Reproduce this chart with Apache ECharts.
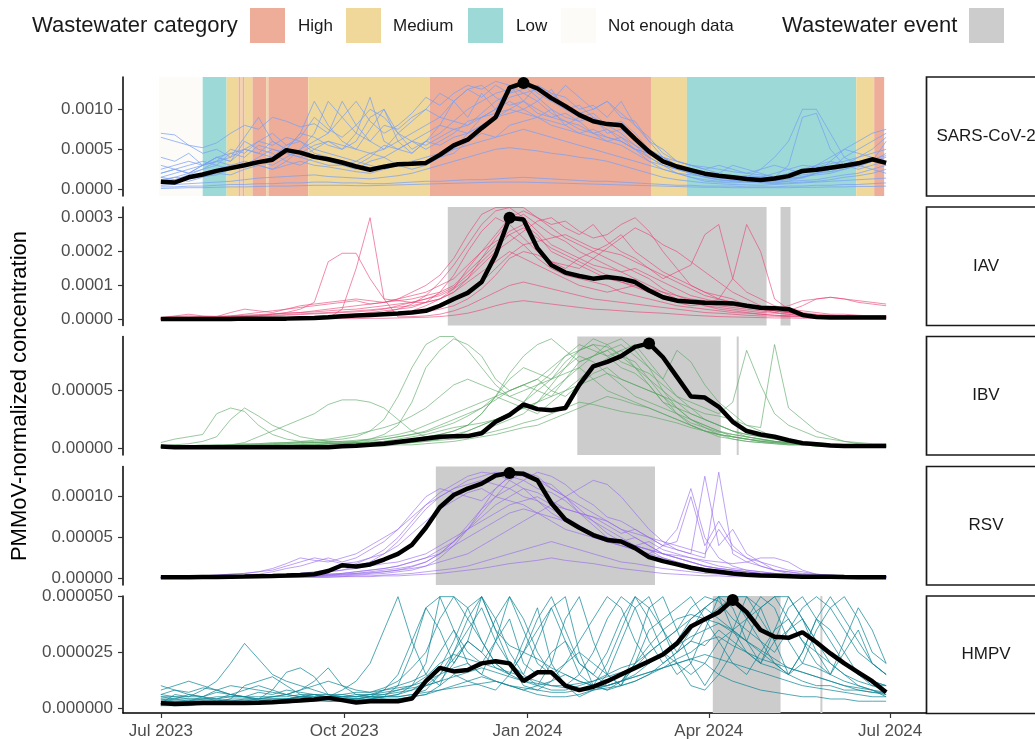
<!DOCTYPE html>
<html><head><meta charset="utf-8">
<script src="https://cdn.jsdelivr.net/npm/echarts@6/dist/echarts.min.js"></script>
<style>html,body{margin:0;padding:0;background:#fff}#c{width:1035px;height:740px}</style>
</head><body><div id="c"></div>
<script>
// ---------------- DATA ----------------
const UNIT = 1e-6; // all concentration values below are in units of 1e-6
const weeks = ['2023-07-01','2023-07-08','2023-07-15','2023-07-22','2023-07-29','2023-08-05','2023-08-12','2023-08-19','2023-08-26','2023-09-02','2023-09-09','2023-09-16','2023-09-23','2023-09-30','2023-10-07','2023-10-14','2023-10-21','2023-10-28','2023-11-04','2023-11-11','2023-11-18','2023-11-25','2023-12-02','2023-12-09','2023-12-16','2023-12-23','2023-12-30','2024-01-06','2024-01-13','2024-01-20','2024-01-27','2024-02-03','2024-02-10','2024-02-17','2024-02-24','2024-03-02','2024-03-09','2024-03-16','2024-03-23','2024-03-30','2024-04-06','2024-04-13','2024-04-20','2024-04-27','2024-05-04','2024-05-11','2024-05-18','2024-05-25','2024-06-01','2024-06-08','2024-06-15','2024-06-22','2024-06-29'];
const panelNames = ['SARS-CoV-2','IAV','IBV','RSV','HMPV'];
const xTickDates = ['2023-07-01','2023-10-01','2024-01-01','2024-04-01','2024-07-01'];
const xTickLabels = ['Jul 2023','Oct 2023','Jan 2024','Apr 2024','Jul 2024'];
const yTicks = [[0,0.0005,0.0010],[0,0.0001,0.0002,0.0003],[0,0.00005],[0,0.00005,0.00010],[0,0.000025,0.000050]];

const sarsMean = [95,85,150,185,230,265,300,340,370,490,458,405,375,335,285,245,283,312,320,330,430,550,620,765,900,1270,1330,1260,1140,1040,930,850,815,800,630,470,350,285,240,195,170,150,128,116,135,165,230,245,270,295,325,375,330];
const iavMean = [1,1,1,1,1,1,2,2,2,2,3,4,6,9,11,13,15,17,20,25,40,60,78,110,190,300,295,210,160,138,128,120,125,120,110,85,65,55,52,49,48,47,40,34,33,30,13,7,5,5,5,5,5];
const ibvMean = [1.5,1,1,1,1,1,1,1,1,1,1,1,1,1.8,2.3,3,4,5.5,7,8.5,10,10.5,10.6,13,23,29,38,34,33,35,55,71,75,80,88,91,79,62,45,44,36,23,15,12,10,7,4.5,3.5,2.5,2,2,2,2];
const rsvMean = [1.2,1.2,1.3,1.5,1.7,2,2.2,2.5,2.8,3.3,4,5,9,16,14.5,17,23,30,41,62,87,102,110,116,126,129,128,120,92,72,62,53,47,45,37,26,21,17,13,10,8,6,4.5,3.5,3,2.5,2,2,1.8,1.5,1.3,1.2,1.2];
const hmpvMean = [2.2,1.7,2,2.2,2.2,2.2,2.2,2.3,2.5,3,3.3,3.8,4.5,3.5,2.4,3,3,3,4.2,12,18,16.4,17,20,21,20,12,16,16,10,8,9.5,12,15,18,21,24,29,36.6,39.8,43,48.5,43,35,32,31.5,34,29.5,24.5,20,16,12,7];

const sarsSites = [
[650,600,550,520,580,700,800,750,900,850,780,820,700, 900,1100,850,700,800,950,1150,1050,1200,1300,1250,1350,1300, 1200,1100,1250,1000,900,950,800,700,550,400,300,250,220, 200,180,170,160,150,200,250,300,280,320,350,400,450,500],
[150,200,250,300,350,400,500,600,550,650,600,500,450, 400,350,450,500,600,700,800,900,850,1000,1100,1200,1250, 1300,1150,1000,900,850,700,750,600,500,350,250,200,150, 120,100,110,90,100,130,160,200,250,220,300,320,380,420],
[50,60,70,80,90,100,120,140,150,160,170,180,160, 150,140,130,150,170,200,250,300,350,400,450,500,520, 500,480,450,430,400,380,350,300,250,200,150,120,100, 80,70,60,55,50,60,70,80,90,100,110,120,130,140],
[700,680,550,450,500,400,650,900,600,500,700,1100,800, 600,500,750,1000,600,450,600,800,1100,900,1200,1000,1300, 1100,1300,1200,1150,1000,1050,900,1100,800,600,500,350,300, 250,200,300,250,200,150,300,900,950,500,300,250,300,350],
[100,150,200,250,300,450,500,450,400,550,600,450,400, 350,300,400,550,500,450,600,700,850,800,950,1100,1200, 1250,1300,1200,1050,950,1000,1100,900,850,600,400,300,250, 200,180,150,170,160,140,150,180,200,250,300,280,350,600],
[80,100,150,200,250,300,350,300,250,300,350,300,280, 250,220,200,250,300,350,400,450,500,550,600,650,700, 750,700,650,600,550,500,450,400,350,300,250,200,180, 160,140,120,110,100,90,100,110,120,150,180,200,250,300],
[30,30,40,40,50,60,60,70,70,80,80,90,90, 80,80,70,70,80,90,100,100,110,120,120,130,140, 150,140,130,120,110,100,100,90,80,70,60,50,50, 40,40,40,30,30,30,40,40,50,50,60,60,70,80],
[300,250,200,300,400,350,600,500,450,350,500,600,700, 1100,800,600,500,700,600,500,600,700,850,900,1000,1100, 1000,900,1000,800,700,750,650,600,500,450,350,300,200, 150,120,100,150,250,400,600,1000,1000,700,400,300,250,200],
[200,250,300,350,300,250,300,400,500,450,400,350,300, 300,250,350,400,300,250,300,400,500,700,900,1000,1150, 1200,1250,1100,1000,1050,900,800,850,700,500,350,250,200, 150,120,100,100,90,80,100,150,200,250,400,500,600,700],
[150,120,180,250,350,300,280,350,400,500,450,550,600, 500,600,900,1000,700,500,600,550,650,700,800,900,950, 1000,1100,950,850,800,700,600,650,550,450,400,300,250, 200,180,160,140,120,100,120,150,200,220,250,300,350,400],
[400,350,450,300,350,500,450,600,700,550,650,900,750, 650,800,1000,900,700,850,1000,900,1100,1250,1150,1300,1200, 1350,1200,1100,1300,1150,1000,1100,950,800,650,450,350,300, 250,300,250,200,250,300,250,200,300,350,300,400,500,650],
[100,120,100,150,200,180,250,300,250,350,300,400,350, 300,350,300,250,300,350,300,400,450,600,700,650,800, 850,900,800,750,700,650,600,550,450,350,300,200,150, 100,90,80,90,80,70,80,90,100,120,150,170,200,250],
[200,250,200,300,400,350,500,450,600,500,700,650,550, 500,700,600,800,750,900,1000,1200,1100,1250,1300,1150,1050, 1100,1000,900,950,850,900,700,750,600,500,400,300,250, 200,150,150,130,120,110,130,160,180,200,250,300,350,450],
[10,15,20,20,25,30,30,35,40,40,45,50,50, 50,45,45,50,55,60,65,70,75,80,85,90,90, 90,85,80,75,70,65,60,55,50,45,40,35,30, 25,25,20,20,20,20,20,25,25,30,30,35,35,40],
[250,300,350,300,400,450,400,550,500,450,400,500,600, 550,500,450,400,500,600,550,650,750,800,900,950,1000, 950,900,850,800,900,850,750,650,500,400,300,250,200, 180,150,140,130,120,150,200,250,300,400,500,600,700,750],
[120,150,130,160,180,250,300,350,300,400,500,700,1100, 900,700,1150,600,500,600,700,800,750,700,800,900,1000, 1100,950,900,850,750,700,650,600,500,450,400,350,300, 280,250,220,200,180,160,150,140,200,350,500,450,400,300]
];
const iavSites = [
[5,10,15,10,8,20,30,25,20,30,40,45,50, 55,60,55,50,60,80,100,130,180,250,310,330,330, 300,260,220,200,180,160,150,140,120,100,80,60,50, 40,35,30,25,20,18,15,12,10,8,8,7,7,7],
[0,0,1,2,2,3,3,4,5,5,6,8,10, 12,15,20,25,30,35,50,80,130,200,260,300,280, 240,200,170,150,180,200,220,250,200,170,140,120,100, 80,70,60,40,30,20,15,10,8,6,5,5,4,4],
[2,3,4,5,5,6,8,10,15,20,30,50,170, 195,195,120,60,55,50,50,60,80,120,180,240,290, 310,280,250,230,200,180,160,140,150,130,110,90,70, 60,50,40,35,30,25,20,15,12,10,10,8,8,8],
[0,1,1,1,2,2,3,3,4,5,5,6,7, 8,10,12,15,20,25,40,60,90,150,200,230,250, 220,180,150,130,120,110,100,80,70,60,50,40,35, 30,25,20,18,15,12,10,10,8,8,7,6,6,5],
[3,3,4,5,6,7,8,9,10,12,14,16,18, 20,22,25,30,40,50,60,70,90,120,160,200,230, 260,290,300,270,250,280,230,200,180,150,120,140,160, 250,280,120,80,60,40,30,25,20,15,15,12,10,10],
[1,2,3,4,5,8,10,12,15,18,20,25,30, 35,40,45,50,55,60,70,80,100,140,180,220,260, 280,250,200,180,160,140,120,110,100,90,80,70,60, 55,50,45,40,35,30,40,55,60,65,60,50,45,40],
[1,1,1,1,1,2,2,2,2,3,3,3,4, 30,150,300,60,7,8,10,15,25,40,60,80,100, 110,100,90,80,70,60,55,50,45,40,35,30,25, 20,18,15,12,10,9,8,7,6,5,5,4,4,4],
[5,8,10,8,6,10,15,20,25,30,35,40,45, 50,55,45,50,60,70,80,100,120,160,200,250,300, 320,300,280,290,260,240,250,280,300,260,200,150,100, 80,60,50,40,30,25,20,15,12,12,10,10,10,10],
[0,1,1,2,2,3,3,4,4,5,5,6,8, 10,12,15,20,30,45,70,110,160,220,280,320,330, 330,300,270,240,220,200,180,160,140,120,90,70,55, 40,30,25,20,15,12,10,8,7,6,5,5,4,4],
[2,2,3,3,4,4,5,5,6,6,7,8,9, 10,12,14,16,18,22,28,40,55,80,110,150,190, 220,230,240,250,230,210,200,190,170,150,130,110,90, 70,60,50,40,30,25,20,15,12,10,10,10,10,10],
[1,1,2,2,3,3,4,4,5,5,6,6,7, 8,9,10,12,15,18,22,30,40,60,90,130,180, 200,190,170,160,150,180,210,240,270,250,220,200,170, 140,110,80,60,40,30,20,15,12,10,8,8,7,6],
[3,4,5,6,7,8,9,10,12,14,16,18,20, 22,25,28,32,36,40,50,60,80,110,140,170,200, 180,160,140,120,100,90,80,90,100,80,60,50,40, 45,60,120,280,200,60,30,20,15,12,10,8,8,8],
[0,0,0,0,0,0,0,1,1,1,1,1,2, 2,2,3,3,4,5,6,8,12,18,28,40,50, 55,50,45,40,35,30,28,25,22,20,18,15,12, 10,8,7,6,5,4,4,3,3,3,3,3,3,3],
[5,6,7,8,9,10,12,14,16,18,20,22,25, 28,30,35,40,45,50,60,75,95,130,170,210,250, 270,240,210,190,170,150,130,110,95,80,70,60,50, 45,40,35,30,25,20,25,40,60,65,60,55,50,45]
];
const ibvSites = [
[2,3,4,6,10,25,35,28,20,15,10,8,6, 5,5,6,8,10,12,15,20,25,30,35,45,50, 55,60,70,80,85,90,88,80,75,60,45,30,20, 15,10,8,6,5,4,3,3,2,2,2,2,2,2],
[1,1,1,2,2,3,5,10,15,20,25,30,38, 42,42,40,35,25,15,10,12,15,20,30,45,60, 70,65,60,75,85,95,90,80,70,60,50,40,30, 25,20,15,10,8,6,5,4,3,3,2,2,2,2],
[1,1,1,1,1,1,1,2,2,2,3,3,4, 5,6,8,12,20,40,70,85,95,90,80,60,50, 55,60,50,45,55,65,70,60,55,50,45,35,25, 20,15,10,8,6,5,4,3,3,2,2,2,2,2],
[3,2,2,2,1,1,1,1,1,1,1,2,2, 2,2,3,3,4,5,6,8,10,15,20,25,30, 35,40,50,60,70,80,85,90,80,70,60,85,75, 55,40,30,20,15,10,8,6,5,4,3,3,3,3],
[1,1,1,1,1,1,1,1,1,1,1,1,1, 1,2,2,2,3,3,4,5,6,8,10,12,15, 18,20,25,30,35,40,45,42,38,35,30,25,20, 15,12,10,8,6,5,4,3,2,2,2,1,1,1],
[2,3,2,2,2,2,3,3,3,4,4,5,5, 6,6,7,8,10,12,14,18,22,28,35,42,50, 55,50,45,60,75,80,85,75,70,65,55,45,40, 35,30,40,85,55,30,20,15,10,8,6,5,4,4],
[1,2,2,2,2,3,3,3,4,4,5,5,6, 6,7,8,10,12,15,20,25,30,35,40,45,40, 35,30,40,50,60,70,78,85,70,55,40,30,22, 18,14,12,10,8,6,5,4,3,3,3,2,2,2],
[5,8,10,12,30,35,32,20,12,8,6,5,5, 4,4,5,6,8,10,12,15,18,20,22,25,30, 40,55,65,80,90,85,80,70,65,55,40,35,30, 25,20,15,12,10,8,6,5,4,3,3,3,3,3],
[1,1,1,1,2,2,2,2,3,3,3,3,4, 4,5,5,6,7,8,10,12,15,20,30,45,65, 80,90,95,85,75,80,90,95,85,70,50,35,25, 18,12,8,6,5,4,3,3,2,2,2,2,2,2],
[2,2,2,2,3,3,3,4,4,5,5,6,7, 8,10,15,25,45,70,90,97,97,85,70,55,45, 40,50,60,70,80,75,65,55,45,40,35,30,25, 20,15,12,10,8,6,5,4,3,3,2,2,2,2],
[1,1,1,1,1,1,1,1,2,2,2,2,2, 3,3,3,4,4,5,6,7,8,10,12,15,18, 22,25,30,35,40,38,35,32,30,28,25,22,18, 15,12,10,8,6,5,4,3,3,2,2,2,1,1],
[1,1,2,2,2,2,2,3,3,3,3,4,4, 4,5,5,6,6,7,8,10,12,15,20,25,30, 35,40,45,50,55,60,65,60,55,50,45,40,35, 30,28,25,20,18,90,35,25,15,10,6,4,3,3],
[1,1,1,1,1,2,2,2,2,2,3,3,3, 3,4,4,5,5,6,7,8,10,12,15,20,25, 30,40,55,70,85,90,80,85,90,75,60,45,35, 25,20,15,12,10,8,6,5,4,3,3,2,2,2],
[2,2,2,3,3,3,4,4,5,5,6,7,8, 10,12,15,18,22,28,35,45,55,60,55,50,45, 50,55,60,65,70,60,50,45,40,35,30,25,20, 15,12,10,8,7,6,5,4,4,3,3,3,3,3]
];
const rsvSites = [
[1,1,1,2,2,2,3,3,4,5,6,8,10, 14,18,25,35,50,70,90,105,115,125,130,128,120, 110,95,80,70,60,50,45,40,35,30,25,20,15, 12,10,8,6,5,4,3,3,2,2,2,2,2,2],
[0,0,1,1,1,1,2,2,2,3,3,4,5, 6,8,10,12,15,20,25,35,45,60,80,100,120, 130,125,110,100,85,70,60,50,40,45,35,30,25, 20,15,12,10,8,6,5,4,3,2,2,2,1,1],
[2,2,3,3,4,5,6,8,10,15,20,25,22, 18,20,25,30,40,55,70,85,95,105,110,100,95, 90,80,70,60,55,50,45,40,35,30,40,60,110, 50,25,15,10,8,6,5,4,3,3,2,2,2,2],
[1,1,1,1,1,1,1,1,1,2,2,2,3, 3,4,5,6,8,10,15,25,40,60,85,110,125, 130,120,115,100,80,65,50,45,50,40,30,25,20, 15,12,10,8,6,5,4,3,3,2,2,2,2,2],
[1,2,2,2,3,3,3,4,4,5,6,7,8, 10,12,15,18,20,25,30,40,50,60,70,80,90, 95,100,90,85,80,75,70,60,55,50,40,35,30, 125,40,60,30,20,10,8,5,4,3,3,2,2,2],
[0,0,0,0,0,0,1,1,1,1,1,1,1, 2,2,2,3,3,4,5,6,8,10,12,15,18, 20,22,25,22,20,18,15,12,10,8,6,5,4, 3,3,2,2,2,2,1,1,1,1,1,1,1,1],
[1,1,2,2,3,3,4,5,8,12,15,20,25, 20,25,35,45,60,80,100,110,105,100,95,110,125, 120,110,105,95,80,70,55,45,40,35,25,20,15, 10,8,6,5,4,3,3,2,2,2,2,2,2,2],
[1,1,1,1,1,2,2,2,2,3,3,3,4, 5,6,8,10,12,15,20,30,45,65,85,100,110, 120,130,125,115,100,90,75,70,60,50,45,40,35, 30,60,35,25,20,15,10,8,5,4,3,3,2,2],
[1,1,1,1,2,2,2,3,3,4,5,6,8, 10,15,20,30,45,65,85,100,110,120,125,130,128, 125,120,110,100,90,80,70,60,50,40,30,25,20, 15,12,10,8,6,5,4,3,3,2,2,2,2,2],
[1,1,1,1,1,2,2,2,2,3,3,3,4, 5,6,7,8,10,12,15,20,25,30,40,50,60, 70,80,90,100,110,120,115,100,80,60,45,35,30, 25,130,30,20,15,10,8,6,5,4,3,3,2,2],
[0,0,0,0,0,1,1,1,1,1,1,2,2, 2,3,3,4,5,6,8,10,12,15,20,25,30, 35,40,45,40,35,30,25,20,18,15,12,10,8, 6,5,4,3,3,2,2,2,1,1,1,1,1,1],
[2,2,3,3,4,5,6,8,12,18,25,22,20, 25,30,40,50,60,75,90,100,110,115,120,115,110, 100,95,85,75,65,55,50,45,40,35,30,25,20, 15,12,10,8,6,5,4,3,3,2,2,2,2,2],
[1,1,1,1,1,1,2,2,2,2,3,3,3, 4,5,6,8,10,14,20,30,45,60,75,90,100, 110,105,95,85,80,75,65,55,60,50,40,45,100, 40,70,40,25,15,10,6,4,3,2,2,2,2,2],
[1,1,1,2,2,2,2,3,3,3,4,4,5, 6,8,10,12,15,20,25,30,40,50,60,70,80, 85,80,75,70,60,55,50,45,40,35,30,28,25, 22,20,18,20,25,25,20,10,5,3,2,2,2,2]
];
const hmpvSites = [
[2,6,5,5,3,4,10,12,14,10,6,4,3, 3,4,5,8,15,30,45,50,35,25,20,30,40, 20,15,25,30,20,15,10,12,18,25,30,35,45, 50,48,40,35,30,25,35,40,30,25,20,15,12,10],
[4,3,3,4,4,5,5,4,5,6,8,12,18, 10,6,5,4,3,5,10,15,25,35,45,30,20, 10,8,12,20,30,40,50,45,30,20,25,30,40, 45,50,35,25,20,30,45,50,40,30,20,15,10,8],
[2,2,2,3,3,3,3,3,4,4,4,4,5, 5,5,6,6,8,10,12,15,18,20,15,12,10, 8,10,12,15,12,10,8,10,12,15,20,25,30, 28,35,30,25,20,18,15,20,18,15,12,10,8,6],
[10,8,6,5,8,6,5,3,3,4,5,6,4, 3,3,4,5,6,10,20,50,50,40,30,20,15, 30,45,20,10,5,8,15,30,45,50,35,20,10, 8,15,25,40,50,45,30,20,35,45,50,40,25,20],
[1,1,1,2,2,2,2,2,2,2,3,3,3, 3,3,3,4,4,5,6,8,10,12,14,12,10, 8,6,5,5,6,8,10,12,14,16,18,20,22, 20,15,12,10,8,7,6,5,5,4,4,3,3,3],
[5,5,4,4,4,3,3,3,3,4,5,6,5, 4,4,5,6,7,8,10,12,20,30,25,40,50, 35,20,15,20,25,20,15,10,20,35,40,45,50, 40,30,20,15,25,35,40,30,20,15,25,35,20,15],
[3,3,3,3,3,4,4,4,4,4,5,5,5, 5,5,5,5,5,6,8,15,22,30,25,18,15, 12,10,8,8,10,12,15,18,20,25,30,35,40, 45,40,35,30,25,20,15,12,10,10,8,8,7,7],
[6,5,5,8,12,20,29,22,15,12,10,8,6, 5,4,4,5,6,8,12,18,30,45,50,35,28, 25,22,18,15,12,10,10,12,15,20,25,20,15, 20,30,35,40,45,50,50,40,30,20,15,10,8,5],
[2,2,3,3,3,3,4,4,8,16,18,14,6, 4,4,3,3,4,5,6,10,15,12,10,8,15, 25,35,45,30,15,10,8,12,20,28,35,40,42, 40,38,35,30,45,50,40,30,25,20,15,12,10,10],
[4,4,4,4,5,5,5,5,5,5,6,6,6, 6,7,7,8,9,10,14,20,24,22,20,18,16, 14,12,10,9,8,8,9,10,12,15,18,22,25, 30,32,28,25,22,20,18,16,14,12,10,8,7,6],
[3,4,3,5,4,6,5,7,6,8,7,6,5, 8,12,20,35,50,30,15,10,25,40,50,35,20, 15,30,45,50,25,10,20,35,50,40,25,15,20, 35,50,45,30,20,35,50,40,25,15,30,45,35,20],
[8,10,12,10,8,6,5,4,5,6,5,4,5, 6,5,6,8,10,12,15,25,35,20,15,30,50, 40,25,15,10,15,25,40,50,45,30,20,25,35, 45,50,50,40,30,20,15,25,40,50,40,30,20,15],
[1,2,2,2,2,3,3,3,3,3,4,4,4, 4,4,5,5,5,6,7,8,9,10,11,12,10, 9,8,7,7,8,9,10,12,14,16,18,20,22, 24,22,20,18,16,14,12,10,9,8,7,6,5,5],
[5,4,6,5,7,6,8,10,8,6,5,4,5, 4,3,4,5,10,25,45,35,20,30,50,40,25, 15,10,20,40,50,30,15,10,25,45,50,35,20, 10,20,35,50,45,30,15,25,40,35,25,15,12,10],
[2,3,3,3,3,3,3,4,4,4,5,5,5, 5,6,6,7,8,9,10,12,14,16,18,16,14, 12,11,10,10,11,12,14,16,18,20,24,28,32, 35,38,34,30,26,22,18,16,14,12,10,9,8,7],
[6,8,7,9,8,10,9,8,7,6,8,10,12, 10,8,7,9,12,18,25,40,50,45,30,20,15, 25,40,50,35,20,15,25,40,50,45,35,25,30, 40,45,50,50,40,30,35,45,50,45,35,25,20,15]
];

// Wastewater category periods (SARS-CoV-2 panel)
const catStart = ['2023-06-30','2023-07-22','2023-08-03','2023-08-09','2023-08-10','2023-08-11','2023-08-12','2023-08-16','2023-08-23','2023-08-24','2023-09-13','2023-11-13','2024-03-03','2024-03-21','2024-06-14','2024-06-23'];
const catEnd   = ['2023-07-22','2023-08-03','2023-08-09','2023-08-10','2023-08-11','2023-08-12','2023-08-16','2023-08-23','2023-08-24','2023-09-13','2023-11-13','2024-03-03','2024-03-21','2024-06-14','2024-06-23','2024-06-28'];
const catLevel = ['Not enough data','Low','Medium','High','Medium','High','Medium','High','Medium','High','Medium','High','Medium','Low','Medium','High'];
// Wastewater events
const iavEventStart = ['2023-11-22','2024-05-07'];
const iavEventEnd   = ['2024-04-30','2024-05-12'];
const ibvEventStart = ['2024-01-26','2024-04-15'];
const ibvEventEnd   = ['2024-04-07','2024-04-16'];
const rsvEventStart = ['2023-11-16'];
const rsvEventEnd   = ['2024-03-05'];
const hmpvEventStart = ['2024-04-03','2024-05-27'];
const hmpvEventEnd   = ['2024-05-07','2024-05-28'];

// ---------------- STYLE / LAYOUT ----------------
const FONT = 'Liberation Sans, Arial, Helvetica, sans-serif';
const catColors = {'High':'#EEAD98','Medium':'#EFD899','Low':'#9DD9D6','Not enough data':'#FDFBF7'};
const eventColor = '#CCCCCC';
const siteColors = ['rgba(120,160,245,0.72)','rgba(232,68,118,0.62)','rgba(85,165,95,0.6)','rgba(150,105,235,0.62)','rgba(15,135,150,0.72)'];
const gridTop = [77, 207, 336.5, 466.5, 596];
const gridH = [119, 118.5, 118.5, 118.5, 117.5];
const yMin = [-0.0000838, -0.0000183, -0.0000058, -0.0000082, -0.0000023];
const yMax = [0.0014037, 0.0003316, 0.0000970, 0.0001370, 0.0000503];
const yDec = [4,4,5,5,6];
const GL = 123, GR = 926;

const ts = s => { const p = s.split('-').map(Number); return Date.UTC(p[0], p[1]-1, p[2]); };
const weekTs = weeks.map(ts);
const xTickTs = xTickDates.map(ts);
const means = [sarsMean, iavMean, ibvMean, rsvMean, hmpvMean];
const sites = [sarsSites, iavSites, ibvSites, rsvSites, hmpvSites];
const events = [null, [iavEventStart, iavEventEnd], [ibvEventStart, ibvEventEnd], [rsvEventStart, rsvEventEnd], [hmpvEventStart, hmpvEventEnd]];
const toSeries = arr => arr.map((v, i) => [weekTs[i], v * UNIT]);
const xLabel = v => { let best = 0; xTickTs.forEach((t, k) => { if (Math.abs(t - v) < Math.abs(xTickTs[best] - v)) best = k; }); return xTickLabels[best]; };

const grids = [], xAxes = [], yAxes = [], series = [];
for (let i = 0; i < 5; i++) {
  grids.push({left: GL, width: GR - GL, top: gridTop[i], height: gridH[i]});
  const last = i === 4;
  xAxes.push({
    type: 'value', gridIndex: i, min: ts('2023-06-12'), max: ts('2024-07-19'),
    axisLine: {show: last, onZero: false, lineStyle: {color: '#000', width: 1.5}},
    axisTick: {show: last, customValues: xTickTs, length: 5, lineStyle: {color: '#333', width: 1.2}},
    axisLabel: {show: last, customValues: xTickTs, color: '#4D4D4D', fontSize: 17, fontFamily: FONT, margin: 10, formatter: xLabel},
    splitLine: {show: false}
  });
  yAxes.push({
    type: 'value', gridIndex: i, min: yMin[i], max: yMax[i],
    axisLine: {show: true, onZero: false, lineStyle: {color: '#000', width: 1.5}},
    axisTick: {show: true, customValues: yTicks[i], length: 5, lineStyle: {color: '#333', width: 1.2}},
    axisLabel: {customValues: yTicks[i], color: '#4D4D4D', fontSize: 17, fontFamily: FONT, margin: 10,
      formatter: v => Number(v).toFixed(yDec[i])},
    splitLine: {show: false}
  });
  let areas = [];
  if (i === 0) {
    areas = catStart.map((s, k) => [{xAxis: ts(s), itemStyle: {color: catColors[catLevel[k]], opacity: 1}}, {xAxis: ts(catEnd[k])}]);
  } else {
    const ev = events[i];
    areas = ev[0].map((s, k) => [{xAxis: ts(s), itemStyle: {color: eventColor, opacity: 1}}, {xAxis: ts(ev[1][k])}]);
  }
  series.push({type: 'line', xAxisIndex: i, yAxisIndex: i, data: [], z: 1, silent: true,
    markArea: {silent: true, label: {show: false}, data: areas}});
  sites[i].forEach(arr => series.push({
    type: 'line', xAxisIndex: i, yAxisIndex: i, data: toSeries(arr), z: 2, silent: true,
    showSymbol: false, symbol: 'none', lineStyle: {color: siteColors[i], width: 1}
  }));
  series.push({
    type: 'line', xAxisIndex: i, yAxisIndex: i, data: toSeries(means[i]), z: 3, silent: true,
    showSymbol: false, symbol: 'none', lineStyle: {color: '#000', width: 4.5}, itemStyle: {color: '#000'},
    markPoint: {symbol: 'circle', symbolSize: 12, label: {show: false}, itemStyle: {color: '#000'}, data: [{type: 'max'}]}
  });
}

const graphic = [];
const legText = (t, x, size) => ({type: 'text', x: x, y: 26, style: {text: t, fontSize: size, fontFamily: FONT, fill: '#1A1A1A', textVerticalAlign: 'middle', textAlign: 'left'}});
graphic.push(legText('Wastewater category', 32, 22));
const legItems = [['High', 250, 298], ['Medium', 346, 393], ['Low', 468, 516], ['Not enough data', 561, 608]];
legItems.forEach(([lab, bx, tx]) => {
  graphic.push({type: 'rect', shape: {x: bx, y: 8, width: 35, height: 35}, style: {fill: catColors[lab]}});
  graphic.push(legText(lab, tx, 17));
});
graphic.push(legText('Wastewater event', 782, 22));
graphic.push({type: 'rect', shape: {x: 969, y: 8, width: 35, height: 35}, style: {fill: eventColor}});
for (let i = 0; i < 5; i++) {
  graphic.push({type: 'rect', shape: {x: 926.5, y: gridTop[i], width: 120, height: gridH[i]}, style: {fill: '#fff', stroke: '#1A1A1A', lineWidth: 1.7}});
  graphic.push({type: 'text', x: 986, y: gridTop[i] + gridH[i] / 2, style: {text: panelNames[i], fontSize: 17, fontFamily: FONT, fill: '#1A1A1A', textAlign: 'center', textVerticalAlign: 'middle'}});
}
graphic.push({type: 'text', x: 20, y: 396, rotation: Math.PI / 2, style: {text: 'PMMoV-normalized concentration', fontSize: 22, fontFamily: FONT, fill: '#000', textAlign: 'center', textVerticalAlign: 'middle'}});

const chart = echarts.init(document.getElementById('c'), null, {renderer: 'canvas'});
chart.setOption({animation: false, backgroundColor: '#fff', grid: grids, xAxis: xAxes, yAxis: yAxes, series: series, graphic: graphic});
</script></body></html>
